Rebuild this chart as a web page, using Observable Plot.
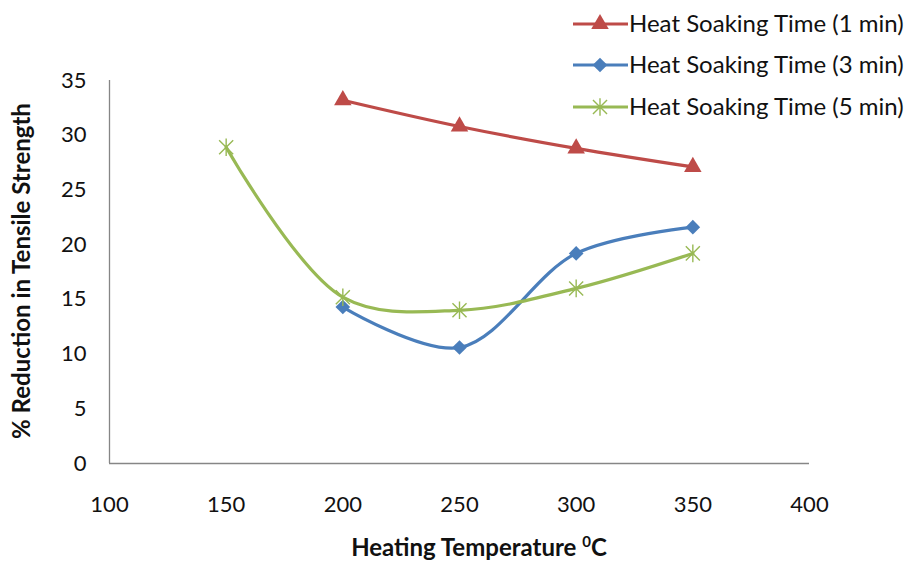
<!DOCTYPE html>
<html>
<head>
<meta charset="utf-8">
<script src="https://cdn.jsdelivr.net/npm/d3@7"></script>
<script src="https://cdn.jsdelivr.net/npm/@observablehq/plot@0.6"></script>
<style>
  html, body { margin: 0; padding: 0; background: #fff; }
  #chart { position: relative; width: 906px; height: 561px; }
  svg { font-family: Lato, "Open Sans", sans-serif; }
</style>
</head>
<body>
<div id="chart"></div>
<script>
// Heating temperature (°C) for each soaking time series
const temps1 = [200, 250, 300, 350];
const temps3 = [200, 250, 300, 350];
const temps5 = [150, 200, 250, 300, 350];

// % reduction in tensile strength
const reduction1 = [33.2, 30.8, 28.8, 27.1];
const reduction3 = [14.3, 10.6, 19.2, 21.6];
const reduction5 = [28.9, 15.2, 14.0, 16.0, 19.2];

const seriesNames = [
  "Heat Soaking Time (1 min)",
  "Heat Soaking Time (3 min)",
  "Heat Soaking Time (5 min)"
];
const seriesColors = ["#BE4B48", "#4A7EBB", "#98B954"];

const xTicks = [100, 150, 200, 250, 300, 350, 400];
const yTicks = [0, 5, 10, 15, 20, 25, 30, 35];

const toRows = (xs, ys) => xs.map((x, i) => ({x, y: ys[i]}));
const rows1 = toRows(temps1, reduction1);
const rows3 = toRows(temps3, reduction3);
const rows5 = toRows(temps5, reduction5);

// Asterisk marker: an X with a vertical bar
const starSymbol = {
  draw(context, size) {
    const r = Math.sqrt(size) * 0.62;
    const d = r * 0.8;
    context.moveTo(-d, -d); context.lineTo(d, d);
    context.moveTo(-d, d); context.lineTo(d, -d);
    context.moveTo(0, -r); context.lineTo(0, r);
  }
};

const axisColor = "#868686";
const textColor = "#111";
const curve = "catmull-rom";
const markerR = [6.5, 6.6, 8];

const plot = Plot.plot({
  width: 906,
  height: 561,
  marginLeft: 109,
  marginRight: 97,
  marginTop: 80,
  marginBottom: 98,
  style: {fontFamily: "Lato, 'Open Sans', sans-serif", color: textColor},
  x: {domain: [100, 400]},
  y: {domain: [0, 35]},
  marks: [
    Plot.ruleY([0], {stroke: axisColor, strokeWidth: 1.3}),
    Plot.ruleX([100], {stroke: axisColor, strokeWidth: 1.3}),
    Plot.axisX({ticks: xTicks, tickSize: 0, tickPadding: 33, label: null, fontSize: 22, fill: textColor}),
    Plot.axisY({ticks: yTicks, tickSize: 0, tickPadding: 23, label: null, fontSize: 22, fill: textColor}),
    Plot.line(rows1, {x: "x", y: "y", stroke: seriesColors[0], strokeWidth: 3.2, curve}),
    Plot.line(rows3, {x: "x", y: "y", stroke: seriesColors[1], strokeWidth: 3.2, curve}),
    Plot.line(rows5, {x: "x", y: "y", stroke: seriesColors[2], strokeWidth: 3.2, curve}),
    Plot.dot(rows1, {x: "x", y: "y", symbol: "triangle", fill: seriesColors[0], r: markerR[0]}),
    Plot.dot(rows3, {x: "x", y: "y", symbol: "diamond2", fill: seriesColors[1], r: markerR[1]}),
    Plot.dot(rows5, {x: "x", y: "y", symbol: starSymbol, stroke: seriesColors[2], strokeWidth: 1.4, fill: "none", r: markerR[2]})
  ]
});

document.getElementById("chart").appendChild(plot);

// Axis titles and legend
const svg = d3.select(plot);

svg.append("text")
  .attr("x", 479).attr("y", 556)
  .attr("text-anchor", "middle")
  .style("font-size", "24px").style("font-weight", "bold").style("fill", textColor)
  .call(t => {
    t.append("tspan").text("Heating Temperature ");
    t.append("tspan").attr("font-size", "15px").attr("dy", "-9px").text("0");
    t.append("tspan").attr("dy", "9px").text("C");
  });

svg.append("text")
  .attr("transform", "translate(22,271) rotate(-90)")
  .attr("text-anchor", "middle")
  .attr("dy", "0.35em")
  .style("font-size", "24px").style("font-weight", "bold").style("fill", textColor)
  .text("% Reduction in Tensile Strength");

const legendSymbols = [d3.symbolTriangle, d3.symbolDiamond2, starSymbol];
const legendY = [24, 65, 107];
const legend = svg.append("g");
seriesNames.forEach((name, i) => {
  const g = legend.append("g").attr("transform", `translate(0,${legendY[i]})`);
  g.append("line").attr("x1", 573).attr("x2", 628).attr("y1", 0).attr("y2", 0)
    .attr("stroke", seriesColors[i]).attr("stroke-width", 3.2);
  const p = g.append("path").attr("transform", "translate(600,0)")
    .attr("d", d3.symbol(legendSymbols[i], Math.PI * markerR[i] * markerR[i])());
  if (i < 2) p.attr("fill", seriesColors[i]);
  else p.attr("fill", "none").attr("stroke", seriesColors[i]).attr("stroke-width", 1.4);
  g.append("text").attr("x", 629).attr("dy", "0.35em").attr("text-anchor", "start")
    .style("font-size", "24px").style("fill", textColor).text(name);
});
</script>
</body>
</html>
